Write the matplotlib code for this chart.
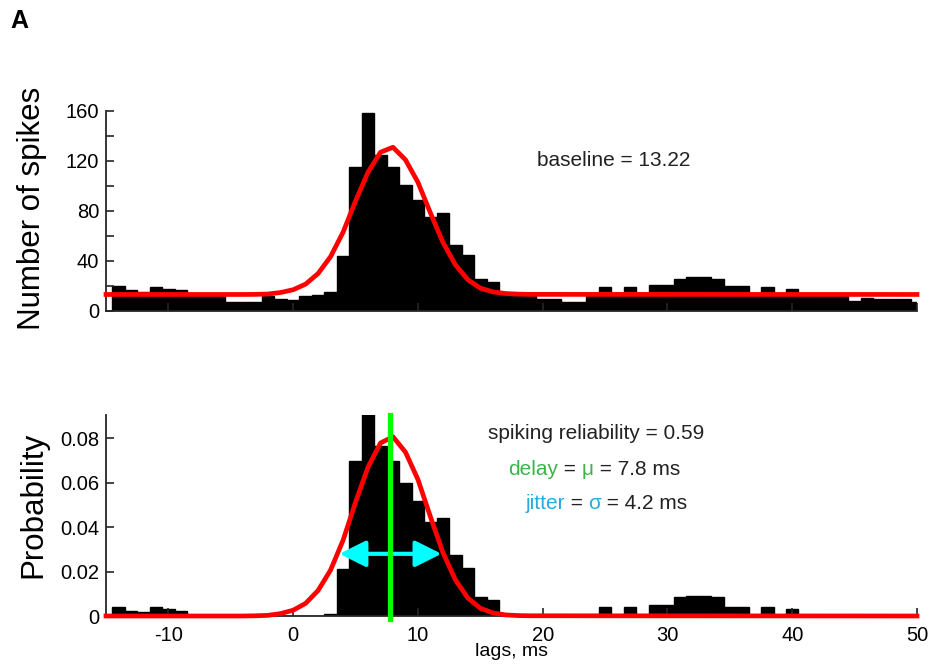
import matplotlib.pyplot as plt
from matplotlib.patches import FancyArrowPatch, ArrowStyle

# cross-correlogram bins (1 ms, centred on integer lags)
lags = list(range(-14, 51))
spike_counts = [20, 16.5, 15.5, 19.5, 17.5, 16.5, 12.8, 12.2, 12.6, 7, 7, 7.5, 12, 9.6,
                8.8, 12.3, 13, 15, 44, 115.5, 158.7, 125, 115.5, 101, 89, 75.5, 78, 52.8,
                44.8, 25.6, 23.5, 14.5, 13, 12.5, 9.3, 9.5, 7, 6.8, 12.5, 19.5, 13, 19.5,
                13, 20.8, 20.8, 25.6, 26.9, 26.9, 25.6, 20, 20, 13.5, 19.5, 13, 17.6, 13,
                12.5, 13, 12.5, 8, 10, 9.5, 9.5, 9.5, 7.5]
probabilities = [0.0042, 0.0024, 0.0017, 0.0042, 0.0030, 0.0024, 0, 0, 0, 0, 0, 0, 0, 0,
                 0, 0, 0, 0.0008, 0.0211, 0.0698, 0.0996, 0.0766, 0.0700, 0.0600, 0.0519,
                 0.0425, 0.0443, 0.0275, 0.0216, 0.0085, 0.0072, 0.0009, 0, 0, 0, 0, 0, 0,
                 0, 0.0042, 0, 0.0042, 0, 0.0051, 0.0051, 0.0084, 0.0092, 0.0092, 0.0084,
                 0.0042, 0.0042, 0, 0.0042, 0, 0.0030, 0, 0, 0, 0, 0, 0, 0, 0, 0, 0]

# gaussian fit curves, read at the points where they bend
fit_lags = [-15, -4, -3, -2, -1, 0, 1, 2, 3, 4, 5, 6, 7, 8, 9, 10, 11, 12, 13, 14, 15,
            16, 17, 18, 19, 50]
fit_counts = [13.22, 13.22, 13.3, 13.6, 14.8, 17.0, 21.5, 30.0, 43.5, 63.0, 88.0, 111.0,
              127.0, 131.0, 121.0, 103.0, 78.5, 55.0, 37.0, 25.0, 18.3, 15.3, 14.0, 13.5,
              13.3, 13.22]
fit_probs = [0, 0, 0.0001, 0.0003, 0.0011, 0.0026, 0.0057, 0.0115, 0.0207, 0.0341, 0.0512,
             0.0670, 0.0779, 0.0807, 0.0738, 0.0615, 0.0447, 0.0286, 0.0163, 0.0081, 0.0035,
             0.0014, 0.0005, 0.0002, 0.0001, 0]

delay = 7.8
jitter_span = [3.6, 12.0]
jitter_level = 0.028

x_ticks = [-10, 0, 10, 20, 30, 40, 50]
top_ticks = list(range(0, 161, 20))
top_labels = ['0', '', '40', '', '80', '', '120', '', '160']
bottom_ticks = [0, 0.02, 0.04, 0.06, 0.08]
bottom_labels = ['0', '0.02', '0.04', '0.06', '0.08']

plt.rcParams['font.family'] = ['Liberation Sans', 'DejaVu Sans']
plt.rcParams['axes.unicode_minus'] = False

dark = '#222222'
spine_col = '#262626'
green_txt = '#3cb44a'
blue_txt = '#27aae1'

fig = plt.figure(figsize=(9.3, 6.69), dpi=100)
ax1 = fig.add_axes([106 / 930, 1 - 311 / 669, 811 / 930, 200 / 669])
ax2 = fig.add_axes([106 / 930, 1 - 616 / 669, 811 / 930, 201 / 669])


def style_axis(ax):
    for side in ['top', 'right']:
        ax.spines[side].set_visible(False)
    for side in ['left', 'bottom']:
        ax.spines[side].set_color(spine_col)
        ax.spines[side].set_linewidth(1.3)
    ax.tick_params(direction='in', length=6, width=1.2, color=spine_col,
                   labelsize=14.5, labelcolor='black', pad=5)
    ax.set_xlim(-15, 50)
    ax.set_xticks(x_ticks)


# top panel: raw counts with baseline + gaussian fit
ax1.bar(lags, spike_counts, width=1.0, color='black', edgecolor='black', linewidth=1.0)
ax1.plot(fit_lags, fit_counts, color='#ff0000', lw=3.4, clip_on=False, zorder=3)
style_axis(ax1)
ax1.set_ylim(0, 160)
ax1.set_yticks(top_ticks)
ax1.set_yticklabels(top_labels)
ax1.set_xticklabels([])
ax1.text(25.7, 120.8, 'baseline = 13.22', fontsize=15, color=dark, ha='center', va='center')

# bottom panel: baseline-subtracted probability
ax2.bar(lags, probabilities, width=1.0, color='black', edgecolor='black', linewidth=1.0)
ax2.plot(fit_lags, fit_probs, color='#ff0000', lw=3.4, clip_on=False, zorder=3)
style_axis(ax2)
ax2.set_ylim(0, 0.0905)
ax2.set_yticks(bottom_ticks)
ax2.set_yticklabels(bottom_labels)
ax2.tick_params(axis='x', pad=7)
ax2.axvline(delay, ymin=-0.015, ymax=1, color='#00ff00', lw=3.8, clip_on=False, zorder=5)

arrow = FancyArrowPatch((jitter_span[0], jitter_level), (jitter_span[1], jitter_level),
                        arrowstyle=ArrowStyle('<|-|>', head_length=0.8, head_width=0.4),
                        mutation_scale=20, color='#00ffff', lw=3, shrinkA=1, shrinkB=1,
                        zorder=4)
ax2.add_patch(arrow)

ax2.text(24.3, 0.082, 'spiking reliability = 0.59', fontsize=15, color=dark,
         ha='center', va='center')


# multi-coloured annotation lines, piece by piece
def colour_line(x, y, pieces):
    t = ax2.text(x, y, pieces[0][0], color=pieces[0][1], fontsize=15, va='center')
    for txt, col in pieces[1:]:
        t = ax2.annotate(txt, xycoords=t, xy=(1, 0.5), va='center', ha='left',
                         color=col, fontsize=15)


colour_line(17.23, 0.0658, [('delay', green_txt), (' = ', dark), ('\u03bc', green_txt),
                            (' = 7.8 ms', dark)])
colour_line(18.6, 0.0505, [('jitter', blue_txt), (' = ', dark), ('\u03c3', blue_txt),
                           (' = 4.2 ms', dark)])

# labels
fig.text(32 / 930, 1 - 208 / 669, 'Number of spikes', rotation=90, fontsize=22.5,
         ha='center', va='center')
fig.text(33 / 930, 1 - 505 / 669, 'Probability', rotation=90, fontsize=22.5,
         ha='center', va='center')
fig.text(511 / 930, 1 - 652 / 669, 'lags, ms', fontsize=14, ha='center', va='center')
fig.text(10 / 930, 1 - 21 / 669, 'A', fontsize=18, fontweight='bold', ha='left', va='center')

fig.savefig('out.png', dpi=100)
